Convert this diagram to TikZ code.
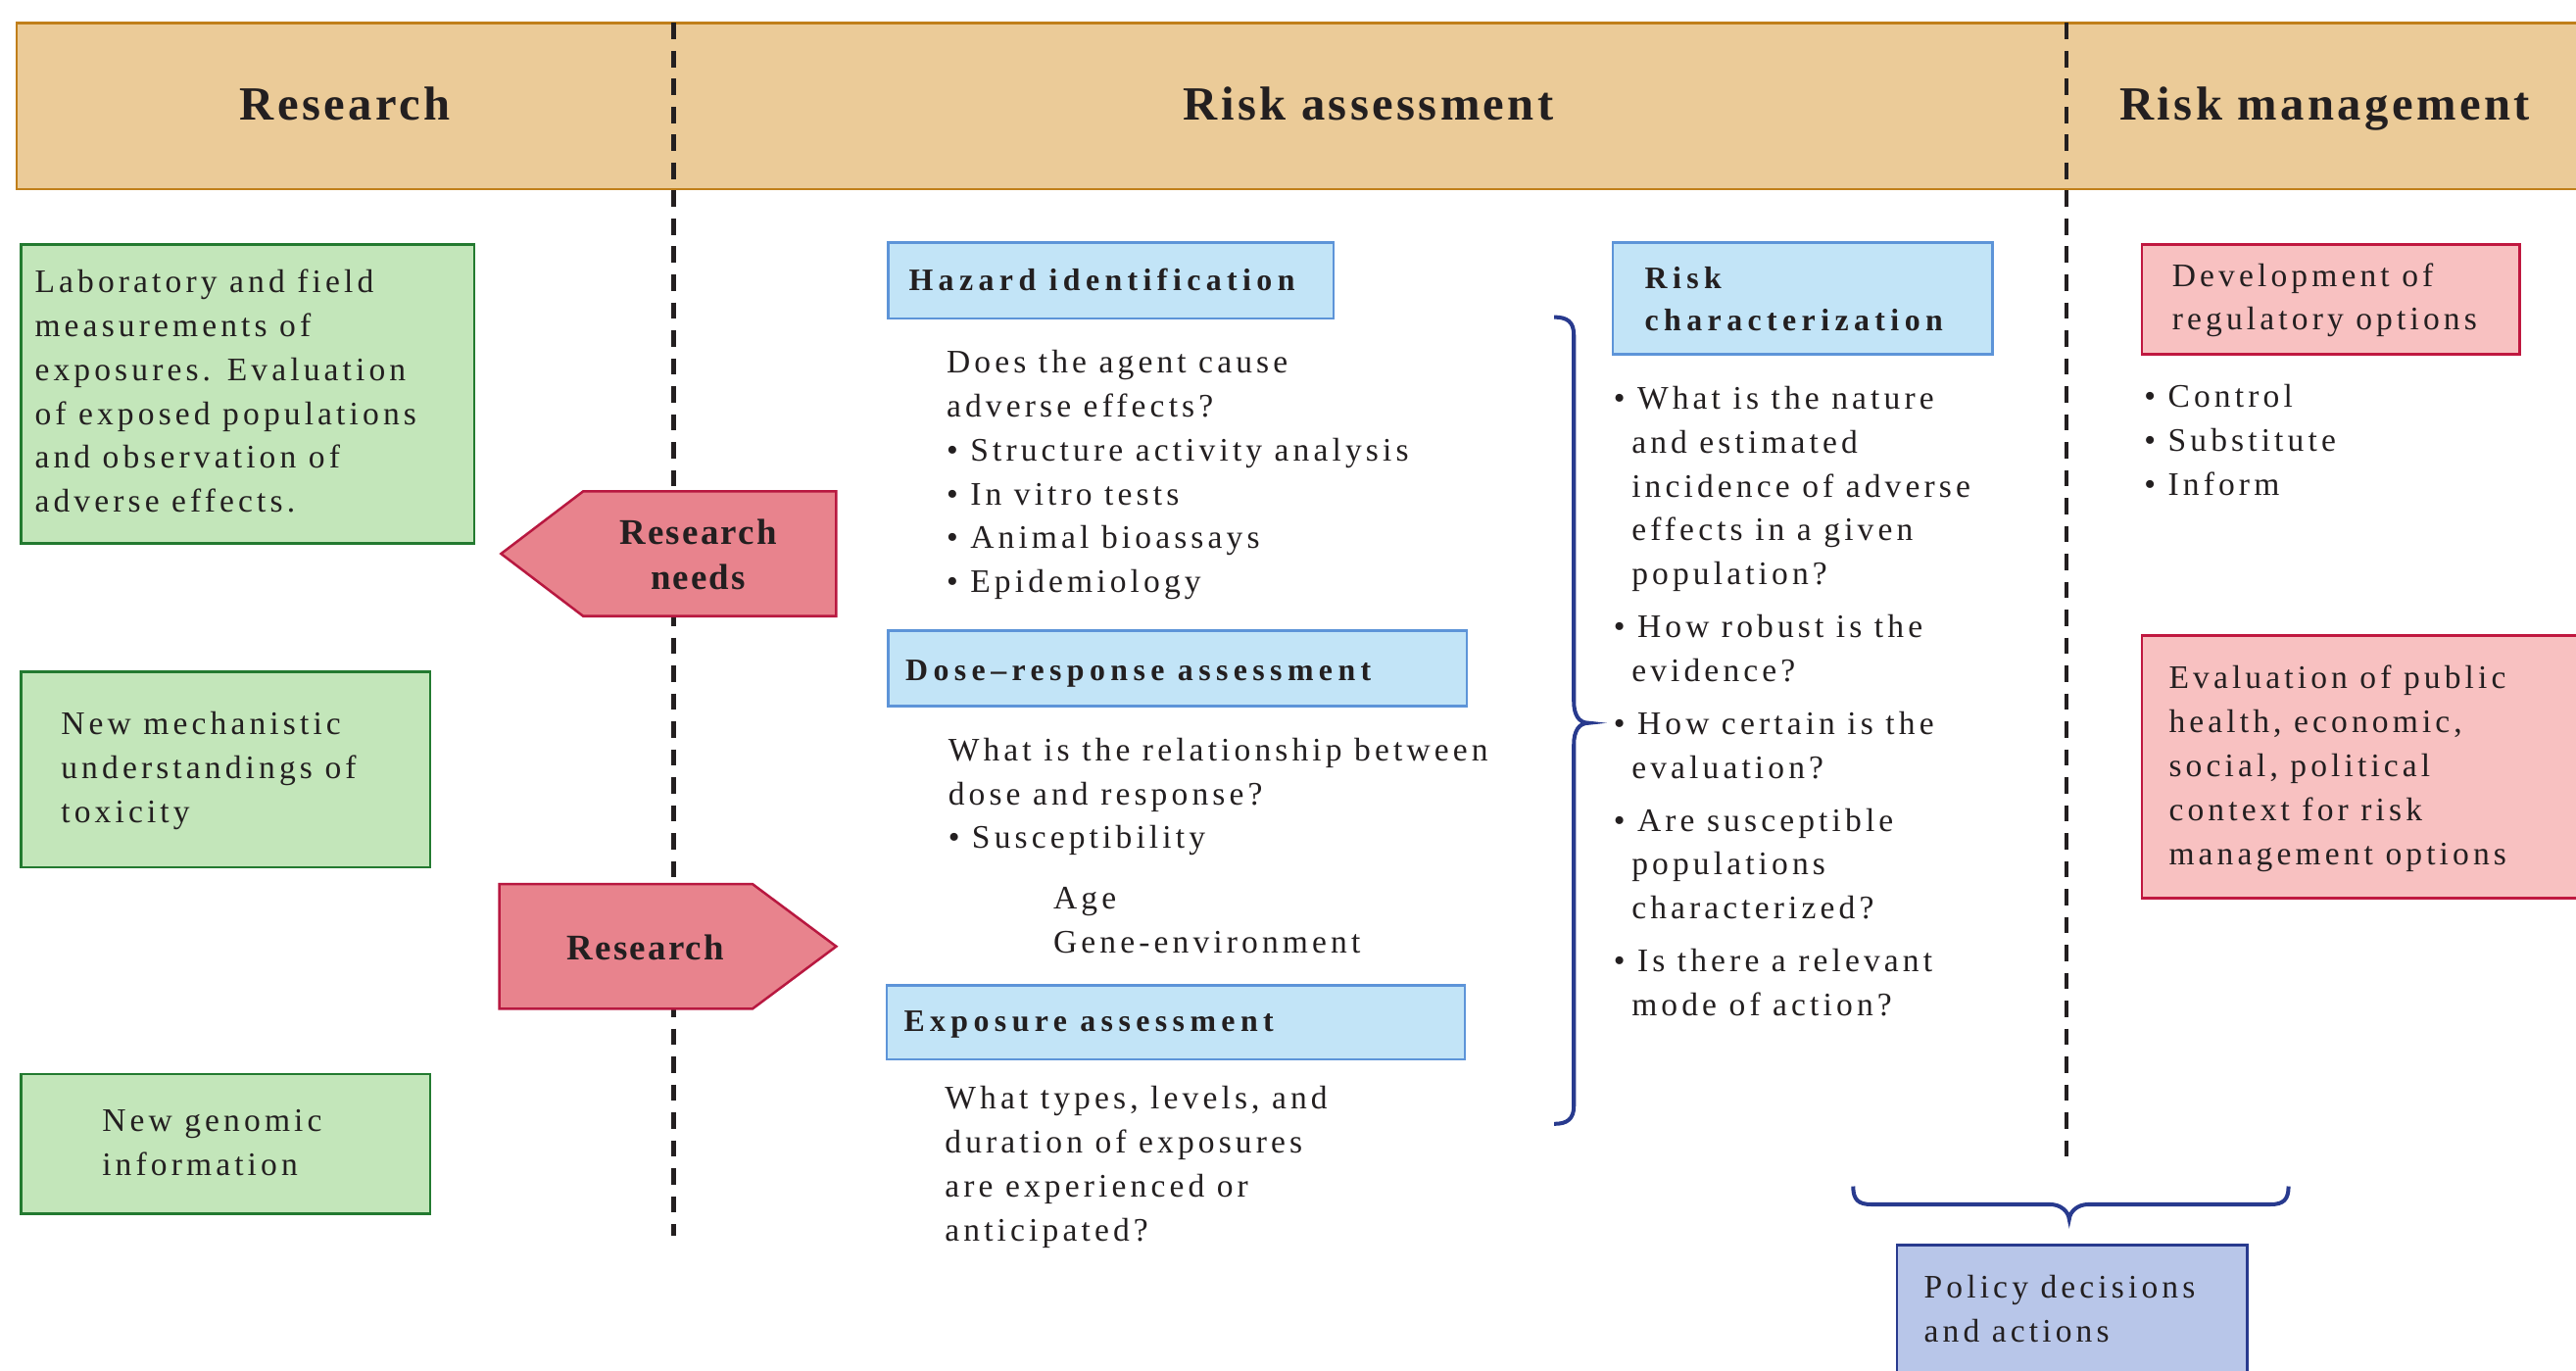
\documentclass[tikz,border=0pt]{standalone}
\usepackage{fontspec}
\setmainfont{Liberation Serif}
\newfontfamily\bodyfont[LetterSpace=12.3]{Liberation Serif}
\newfontfamily\headfont[LetterSpace=17]{Liberation Serif}
\newfontfamily\titlefont[LetterSpace=7]{Liberation Serif}
\newfontfamily\tagfont[LetterSpace=6]{Liberation Serif}

\definecolor{inkc}{HTML}{231F20}
\definecolor{bandfill}{HTML}{EBCB98}
\definecolor{bandline}{HTML}{C07F1A}
\definecolor{greenfill}{HTML}{C3E6BA}
\definecolor{greenline}{HTML}{237A30}
\definecolor{bluefill}{HTML}{C2E4F7}
\definecolor{blueline}{HTML}{5D94D8}
\definecolor{tagfill}{HTML}{E8838D}
\definecolor{tagline}{HTML}{B81840}
\definecolor{pinkfill}{HTML}{F8C1C1}
\definecolor{pinkline}{HTML}{C01840}
\definecolor{policyfill}{HTML}{B8C6E9}
\definecolor{navy}{HTML}{283A8E}

\begin{document}
\begin{tikzpicture}[x=1pt,y=-1pt,
  every node/.style={text=inkc},
  band/.style={fill=bandfill,draw=bandline,line width=1.5pt},
  divider/.style={draw=inkc,line width=2.5pt,dash pattern=on 10pt off 7pt},
  boxbase/.style={anchor=north west,inner sep=0pt,line width=1.5pt},
  greenbox/.style={boxbase,fill=greenfill,draw=greenline},
  bluebox/.style={boxbase,fill=bluefill,draw=blueline},
  pinkbox/.style={boxbase,fill=pinkfill,draw=pinkline},
  policybox/.style={boxbase,fill=policyfill,draw=navy},
  tagshape/.style={fill=tagfill,draw=tagline,line width=1.5pt,line join=miter},
  bracepath/.style={draw=navy,line width=2.4pt},
  bodytext/.style={anchor=north west,inner sep=0pt,align=left,
    font=\bodyfont\fontsize{20}{26.7}\selectfont},
  headtext/.style={anchor=base west,inner sep=0pt,
    font=\headfont\bfseries\fontsize{19}{26}\selectfont},
  titletext/.style={anchor=base,inner sep=0pt,
    font=\titlefont\bfseries\fontsize{29}{34}\selectfont},
  tagtext/.style={inner sep=0pt,align=center,
    font=\tagfont\bfseries\fontsize{22}{27}\selectfont},
]
\useasboundingbox (0,0) rectangle (1568,834);
\clip (0,0) rectangle (1568,834);

% column header band
\draw[band] (10,14) rectangle (1600,115);
\node[titletext] (tResearch) at (210,73) {Research};
\node[titletext] (tAssess) at (833,73) {Risk assessment};
\node[titletext] (tManage) at (1415,73) {Risk management};

% column dividers
\draw[divider] (410,14) -- (410,752);
\draw[divider] (1258,14) -- (1258,708);

% research column
\node[greenbox,minimum width=276pt,minimum height=182pt] (labbox) at (12,148) {};
\node[bodytext] (labtext) at (21,164) {Laboratory and field\\measurements of\\exposures. Evaluation\\of exposed populations\\and observation of\\adverse effects.};
\node[greenbox,minimum width=249pt,minimum height=119pt] (mechbox) at (12,408) {};
\node[bodytext] (mechtext) at (37,433) {New mechanistic\\understandings of\\toxicity};
\node[greenbox,minimum width=249pt,minimum height=85pt] (genobox) at (12,653) {};
\node[bodytext] (genotext) at (62,675) {New genomic\\information};

% research needs / research tags
\draw[tagshape] (305,337) -- (355,299) -- (509,299) -- (509,375) -- (355,375) -- cycle;
\node[tagtext,anchor=north] (needs) at (425,316) {Research\\needs};
\draw[tagshape] (304,538) -- (458,538) -- (509,576) -- (458,614) -- (304,614) -- cycle;
\node[tagtext,anchor=base] (research) at (393,584) {Research};

% risk assessment column
\node[bluebox,minimum width=271pt,minimum height=46pt] (hazbox) at (540,147) {};
\node[headtext] (hazhead) at (553,177) {Hazard identification};
\node[bodytext] (haztext) at (576,213) {Does the agent cause\\adverse effects?\\\textbullet\ Structure activity analysis\\\textbullet\ In vitro tests\\\textbullet\ Animal bioassays\\\textbullet\ Epidemiology};

\node[bluebox,minimum width=352pt,minimum height=46pt] (dosebox) at (540,383) {};
\node[headtext] (dosehead) at (551,414) {Dose–response assessment};
\node[bodytext] (dosetext) at (577,449) {What is the relationship between\\dose and response?\\\textbullet\ Susceptibility};
\node[bodytext] (agetext) at (641,540) {Age\\Gene-environment};

\node[bluebox,minimum width=352pt,minimum height=45pt] (expobox) at (539,599) {};
\node[headtext] (expohead) at (550,628) {Exposure assessment};
\node[bodytext] (expotext) at (575,661) {What types, levels, and\\duration of exposures\\are experienced or\\anticipated?};

% brace gathering the three assessments
\draw[bracepath] (946,193) .. controls (954,193) and (958,196) .. (958,204)
  -- (958,427) .. controls (958,435) and (961,440) .. (967,440)
  .. controls (961,440) and (958,445) .. (958,453)
  -- (958,673) .. controls (958,681) and (954,684) .. (946,684);

\node[bluebox,minimum width=231pt,minimum height=68pt] (charbox) at (981,147) {};
\node[anchor=north west,inner sep=0pt,align=left,
  font=\headfont\bfseries\fontsize{19}{26}\selectfont] (charhead) at (1001,162) {Risk\\characterization};
\node[bodytext] (chartext) at (982,235) {\textbullet\ What is the nature\\
\hspace*{11pt}and estimated\\
\hspace*{11pt}incidence of adverse\\
\hspace*{11pt}effects in a given\\
\hspace*{11pt}population?\\[5.5pt]
\textbullet\ How robust is the\\
\hspace*{11pt}evidence?\\[5.5pt]
\textbullet\ How certain is the\\
\hspace*{11pt}evaluation?\\[5.5pt]
\textbullet\ Are susceptible\\
\hspace*{11pt}populations\\
\hspace*{11pt}characterized?\\[5.5pt]
\textbullet\ Is there a relevant\\
\hspace*{11pt}mode of action?};

% risk management column
\node[pinkbox,minimum width=230pt,minimum height=67pt] (devbox) at (1303,148) {};
\node[bodytext] (devtext) at (1322,160) {Development of\\regulatory options};
\node[bodytext] (opttext) at (1305,234) {\textbullet\ Control\\\textbullet\ Substitute\\\textbullet\ Inform};
\node[pinkbox,minimum width=300pt,minimum height=160pt] (evalbox) at (1303,386) {};
\node[bodytext] (evaltext) at (1320,405) {Evaluation of public\\health, economic,\\social, political\\context for risk\\management options};

% brace leading to policy decisions
\draw[bracepath] (1128,722) .. controls (1128,730) and (1131,733) .. (1139,733)
  -- (1248,733) .. controls (1254,733) and (1259,737) .. (1259.5,742)
  .. controls (1260,737) and (1265,733) .. (1271,733)
  -- (1382,733) .. controls (1390,733) and (1393,730) .. (1393,722);

\node[policybox,minimum width=213pt,minimum height=100pt] (policybox) at (1154,757) {};
\node[bodytext] (policytext) at (1171,776) {Policy decisions\\and actions};
\end{tikzpicture}
\end{document}
